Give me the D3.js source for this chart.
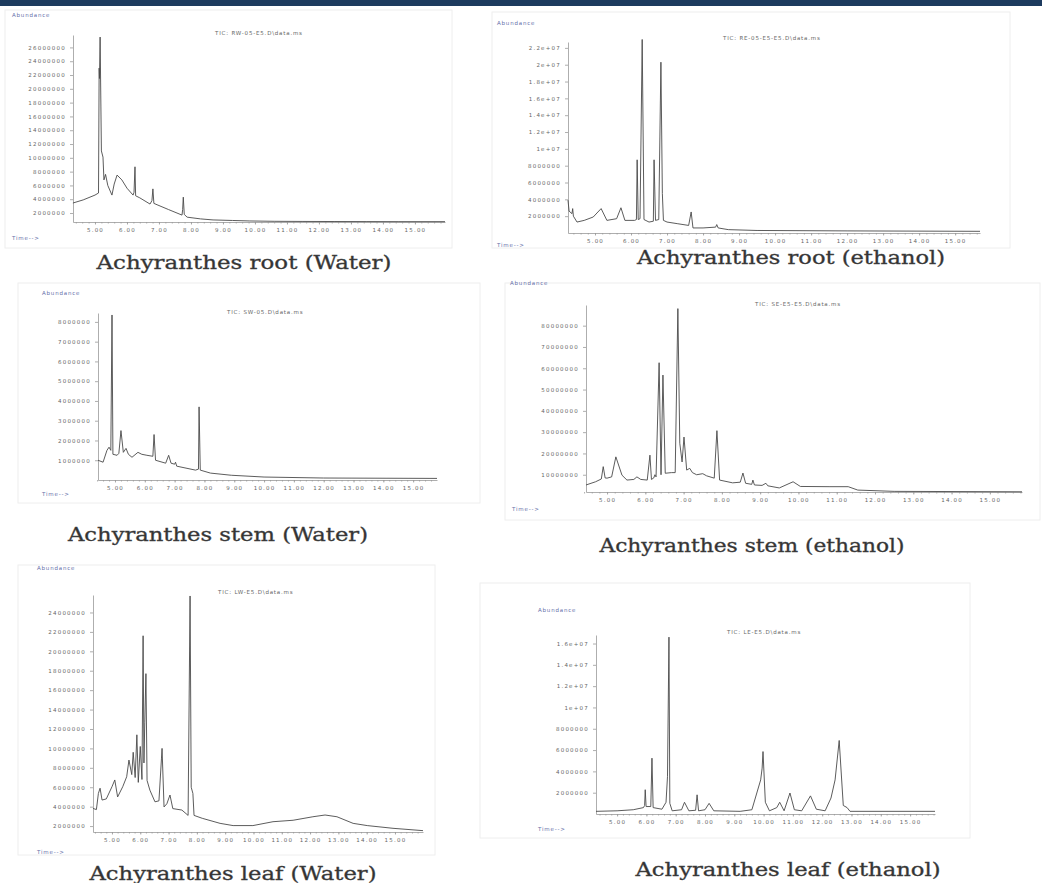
<!DOCTYPE html>
<html>
<head>
<meta charset="utf-8">
<script src="https://cdnjs.cloudflare.com/ajax/libs/d3/7.8.5/d3.min.js"></script>
<style>
  body { margin: 0; background: #fff; }
  .tick text { font-family: "DejaVu Sans", sans-serif; font-size: 5.5px; letter-spacing: 1.2px; fill: #666; }
  .tick line, .domain { stroke: #999; stroke-width: 0.8; }
  .minor .domain { display: none; }
  .tiny { font-family: "DejaVu Sans", sans-serif; font-size: 5.5px; letter-spacing: 0.8px; }
  .caption { font-family: "DejaVu Serif", serif; font-size: 19px; fill: #333; stroke: #444; stroke-width: 0.35; }
</style>
</head>
<body>
<div id="chart"></div>
<script>
// retention time ticks (min), shared by all six chromatograms
var timeTicks = [5, 6, 7, 8, 9, 10, 11, 12, 13, 14, 15];

// [time (min), abundance]
var rootWater = [
  [4.31,3.45e6],[4.63,3.9e6],[5.0,4.6e6],[5.11,4.9e6],[5.13,23e6],[5.14,21.5e6],[5.16,27.5e6],[5.2,11e6],
  [5.25,10.1e6],[5.28,6.8e6],[5.33,7.6e6],[5.4,6.0e6],[5.53,4.6e6],[5.6,6.2e6],[5.69,7.5e6],[5.84,6.8e6],
  [6.0,5.6e6],[6.19,4.6e6],[6.22,5.0e6],[6.25,8.7e6],[6.27,4.5e6],[6.4,4.2e6],[6.72,3.3e6],[6.78,3.8e6],
  [6.81,5.5e6],[6.84,3.4e6],[6.94,3.2e6],[7.3,2.5e6],[7.72,1.7e6],[7.74,2.5e6],[7.76,4.3e6],[7.79,1.8e6],
  [7.88,1.4e6],[8.3,1.15e6],[8.69,1.0e6],[9.3,0.92e6],[9.84,0.85e6],[10.6,0.8e6],[11.5,0.78e6],
  [12.5,0.77e6],[13.5,0.76e6],[14.5,0.75e6],[15.94,0.75e6]
];
var rootEthanol = [
  [4.25,3.9e6],[4.28,2.6e6],[4.36,2.3e6],[4.38,2.9e6],[4.4,2.0e6],[4.5,1.3e6],[4.7,1.5e6],[4.95,1.9e6],
  [5.17,2.9e6],[5.33,1.5e6],[5.6,1.7e6],[5.72,3.0e6],[5.83,1.5e6],[6.1,1.5e6],[6.15,1.6e6],[6.17,8.7e6],
  [6.2,1.6e6],[6.25,1.7e6],[6.31,23e6],[6.36,1.6e6],[6.5,1.3e6],[6.62,1.4e6],[6.64,8.7e6],[6.68,1.5e6],
  [6.77,1.6e6],[6.83,20.3e6],[6.87,4.7e6],[6.9,1.5e6],[7.0,1.3e6],[7.3,1.1e6],[7.6,0.9e6],[7.67,2.5e6],
  [7.72,0.6e6],[8.0,0.6e6],[8.35,0.7e6],[8.38,1.0e6],[8.42,0.6e6],[8.7,0.4e6],[9.5,0.3e6],[12,0.25e6],
  [15.69,0.2e6]
];
var stemWater = [
  [4.43,1.0e6],[4.6,0.9e6],[4.73,1.5e6],[4.8,1.66e6],[4.86,1.5e6],[4.9,8.35e6],[4.93,1.3e6],[5.07,1.25e6],
  [5.13,1.35e6],[5.2,2.5e6],[5.28,1.4e6],[5.37,1.6e6],[5.45,1.3e6],[5.57,1.15e6],[5.77,1.4e6],[5.9,1.3e6],
  [6.07,1.25e6],[6.27,1.2e6],[6.31,2.3e6],[6.36,1.0e6],[6.7,0.85e6],[6.8,1.25e6],[6.88,0.85e6],[7.0,0.8e6],
  [7.03,0.9e6],[7.07,0.7e6],[7.7,0.5e6],[7.8,0.55e6],[7.82,3.7e6],[7.86,0.5e6],[8.2,0.35e6],[8.9,0.24e6],
  [10,0.15e6],[12,0.1e6],[15.8,0.08e6]
];
var stemEthanol = [
  [4.45,0.52e7],[4.7,0.67e7],[4.85,0.8e7],[4.9,1.38e7],[4.95,0.85e7],[5.0,0.84e7],[5.12,0.9e7],[5.23,1.84e7],
  [5.39,0.98e7],[5.52,0.75e7],[5.7,0.78e7],[5.78,0.9e7],[5.88,0.78e7],[6.05,0.75e7],[6.12,1.92e7],[6.16,0.78e7],
  [6.22,0.85e7],[6.25,1.0e7],[6.28,0.9e7],[6.36,6.26e7],[6.41,1.0e7],[6.46,5.68e7],[6.52,1.07e7],[6.68,1.1e7],
  [6.78,1.1e7],[6.85,8.8e7],[6.9,2.48e7],[6.96,1.6e7],[7.01,2.77e7],[7.08,1.22e7],[7.16,1.3e7],[7.23,1.1e7],
  [7.34,1.0e7],[7.5,1.05e7],[7.6,0.95e7],[7.8,0.84e7],[7.87,3.07e7],[7.94,0.75e7],[8.28,0.62e7],[8.48,0.65e7],
  [8.55,1.08e7],[8.62,0.6e7],[8.78,0.55e7],[8.81,0.75e7],[8.85,0.52e7],[9.05,0.5e7],[9.15,0.6e7],[9.2,0.48e7],
  [9.5,0.38e7],[9.86,0.67e7],[10.05,0.45e7],[10.8,0.44e7],[11.3,0.44e7],[11.55,0.28e7],[12.5,0.22e7],
  [15.84,0.2e7]
];
var leafWater = [
  [4.33,3.82e6],[4.45,3.7e6],[4.52,5.36e6],[4.58,5.9e6],[4.65,4.68e6],[4.8,4.8e6],[5.0,6.05e6],[5.1,6.75e6],
  [5.2,5.0e6],[5.38,6.05e6],[5.52,7.08e6],[5.6,8.8e6],[5.7,7.3e6],[5.75,9.6e6],[5.82,7.0e6],[5.88,11.4e6],
  [5.93,6.5e6],[6.0,10.2e6],[6.06,6.8e6],[6.1,21.6e6],[6.13,8.5e6],[6.16,12.7e6],[6.2,17.7e6],[6.24,6.7e6],
  [6.34,5.7e6],[6.52,4.5e6],[6.66,4.6e6],[6.75,9e6],[6.77,10.0e6],[6.84,3.97e6],[6.94,4.3e6],[7.05,5.2e6],
  [7.15,3.8e6],[7.47,3.65e6],[7.69,3.1e6],[7.76,25.7e6],[7.8,6e6],[7.86,5.36e6],[7.9,3.1e6],[8.19,2.8e6],
  [8.82,2.28e6],[9.28,2.05e6],[9.98,2.05e6],[10.69,2.45e6],[11.4,2.6e6],[12.1,2.96e6],[12.53,3.14e6],
  [12.95,2.96e6],[13.52,2.28e6],[14.02,2.05e6],[14.93,1.77e6],[15.99,1.53e6]
];
var leafEthanol = [
  [4.28,0.25e6],[5.0,0.3e6],[5.55,0.4e6],[5.9,0.6e6],[5.94,0.8e6],[5.96,2.28e6],[5.99,0.7e6],[6.15,0.7e6],
  [6.19,5.24e6],[6.23,0.6e6],[6.53,0.45e6],[6.67,1.1e6],[6.72,3.5e6],[6.77,16.6e6],[6.8,1.0e6],[6.88,0.3e6],
  [7.2,0.4e6],[7.3,1.1e6],[7.45,0.3e6],[7.68,0.35e6],[7.73,1.8e6],[7.78,0.3e6],[8.0,0.4e6],[8.14,1.0e6],
  [8.3,0.3e6],[9.2,0.25e6],[9.6,0.4e6],[9.9,3.2e6],[9.95,4.3e6],[9.98,5.86e6],[10.06,1.1e6],[10.2,0.3e6],
  [10.45,0.6e6],[10.55,1.1e6],[10.7,0.3e6],[10.9,1.97e6],[11.05,0.4e6],[11.3,0.3e6],[11.6,1.7e6],
  [11.8,0.45e6],[12.1,0.3e6],[12.3,1.5e6],[12.44,3.2e6],[12.58,6.9e6],[12.72,0.8e6],[12.85,0.6e6],
  [12.95,0.25e6],[15.85,0.25e6]
];

// abundance tick values per panel
var rootWaterTicks = [2e6,4e6,6e6,8e6,10e6,12e6,14e6,16e6,18e6,20e6,22e6,24e6,26e6];
var rootEthanolTicks = [2e6,4e6,6e6,8e6,10e6,12e6,14e6,16e6,18e6,20e6,22e6];
var stemWaterTicks = [1e6,2e6,3e6,4e6,5e6,6e6,7e6,8e6];
var stemEthanolTicks = [1e7,2e7,3e7,4e7,5e7,6e7,7e7,8e7];
var leafWaterTicks = [2e6,4e6,6e6,8e6,10e6,12e6,14e6,16e6,18e6,20e6,22e6,24e6];
var leafEthanolTicks = [2e6,4e6,6e6,8e6,10e6,12e6,14e6,16e6];

var captions = ["Achyranthes root (Water)", "Achyranthes root (ethanol)",
                "Achyranthes stem (Water)", "Achyranthes stem (ethanol)",
                "Achyranthes leaf (Water)", "Achyranthes leaf (ethanol)"];
var ticTitles = ["TIC: RW-05-E5.D\\data.ms", "TIC: RE-05-E5-E5.D\\data.ms",
                 "TIC: SW-05.D\\data.ms", "TIC: SE-E5-E5.D\\data.ms",
                 "TIC: LW-E5.D\\data.ms", "TIC: LE-E5.D\\data.ms"];

var plainFmt = d3.format("d");
var expFmt = function(v) { return v < 1e7 ? plainFmt(v) : (+(v / 1e7).toFixed(1)) + "e+07"; };

var W = 1042, H = 883;
var svg = d3.select("#chart").append("svg").attr("width", W).attr("height", H);

svg.append("rect").attr("x", 0).attr("y", 0).attr("width", W).attr("height", 6).attr("fill", "#1d3b5e");

// layout of each panel (pixels); domains chosen so the axes sit where the scans do
var panels = [
  {data: rootWater, ticks: rootWaterTicks, fmt: plainFmt, box: [5,10,452,248],
   x: [73,445], t: [4.3125,15.94], y: [222,35], v: [0.7e6,27.8e6],
   abund: [12,17], time: [12,240], tic: [215,35], cap: [244,269,295]},
  {data: rootEthanol, ticks: rootEthanolTicks, fmt: expFmt, box: [492,12,1010,248],
   x: [568,980], t: [4.25,15.69], y: [233,42], v: [0,22.7e6],
   abund: [497,25], time: [497,247], tic: [723,40], cap: [791,264,308]},
  {data: stemWater, ticks: stemWaterTicks, fmt: plainFmt, box: [18,283,480,503],
   x: [98,437], t: [4.43,15.8], y: [480,313], v: [0,8.45e6],
   abund: [42,295], time: [42,496], tic: [227,314], cap: [218,541,300]},
  {data: stemEthanol, ticks: stemEthanolTicks, fmt: plainFmt, box: [505,283,1040,520],
   x: [586,1022], t: [4.45,15.84], y: [492,305], v: [0.19e7,8.97e7],
   abund: [510,285], time: [512,511], tic: [755,306], cap: [752,552,305]},
  {data: leafWater, ticks: leafWaterTicks, fmt: plainFmt, box: [18,565,435,855],
   x: [93,423], t: [4.33,15.99], y: [832,595], v: [1.39e6,25.8e6],
   abund: [37,570], time: [37,854], tic: [218,594], cap: [233,880,287]},
  {data: leafEthanol, ticks: leafEthanolTicks, fmt: expFmt, box: [480,583,970,838],
   x: [596,935], t: [4.28,15.85], y: [814,635], v: [0,16.8e6],
   abund: [538,612], time: [538,831], tic: [727,634], cap: [788,876,305]}
];

panels.forEach(function(p, i) {
  var g = svg.append("g");

  g.append("rect")
    .attr("x", p.box[0]).attr("y", p.box[1])
    .attr("width", p.box[2] - p.box[0]).attr("height", p.box[3] - p.box[1])
    .attr("fill", "none").attr("stroke", "#eeeeee");

  var x = d3.scaleLinear().domain(p.t).range(p.x);
  var y = d3.scaleLinear().domain(p.v).range(p.y);

  // minor ticks along the time axis
  g.append("g").attr("class", "minor")
    .attr("transform", "translate(0," + p.y[0] + ")")
    .call(d3.axisBottom(x).tickValues(d3.range(4.4, p.t[1], 0.2)).tickSize(1.5).tickFormat(""));

  g.append("g")
    .attr("transform", "translate(0," + p.y[0] + ")")
    .call(d3.axisBottom(x).tickValues(timeTicks).tickSize(2.5).tickSizeOuter(0)
      .tickFormat(d3.format(".2f")))
    .selectAll("text").attr("dy", "0.9em");

  g.append("g")
    .attr("transform", "translate(" + p.x[0] + ",0)")
    .call(d3.axisLeft(y).tickValues(p.ticks).tickSize(3).tickSizeOuter(0).tickFormat(p.fmt))
    .selectAll("text").attr("dx", "-0.2em");

  g.append("path")
    .datum(p.data)
    .attr("fill", "none")
    .attr("stroke", "#4a4a4a")
    .attr("stroke-width", 0.9)
    .attr("stroke-linejoin", "round")
    .attr("d", d3.line().x(function(d) { return x(d[0]); }).y(function(d) { return y(d[1]); }));

  g.append("text").attr("class", "tiny").attr("x", p.abund[0]).attr("y", p.abund[1])
    .attr("fill", "#6670aa").text("Abundance");
  g.append("text").attr("class", "tiny").attr("x", p.time[0]).attr("y", p.time[1])
    .attr("fill", "#6670aa").text("Time-->");
  g.append("text").attr("class", "tiny").attr("x", p.tic[0]).attr("y", p.tic[1])
    .attr("fill", "#666").text(ticTitles[i]);

  g.append("text").attr("class", "caption")
    .attr("x", p.cap[0]).attr("y", p.cap[1])
    .attr("text-anchor", "middle")
    .attr("textLength", p.cap[2]).attr("lengthAdjust", "spacingAndGlyphs")
    .text(captions[i]);
});
</script>
</body>
</html>
